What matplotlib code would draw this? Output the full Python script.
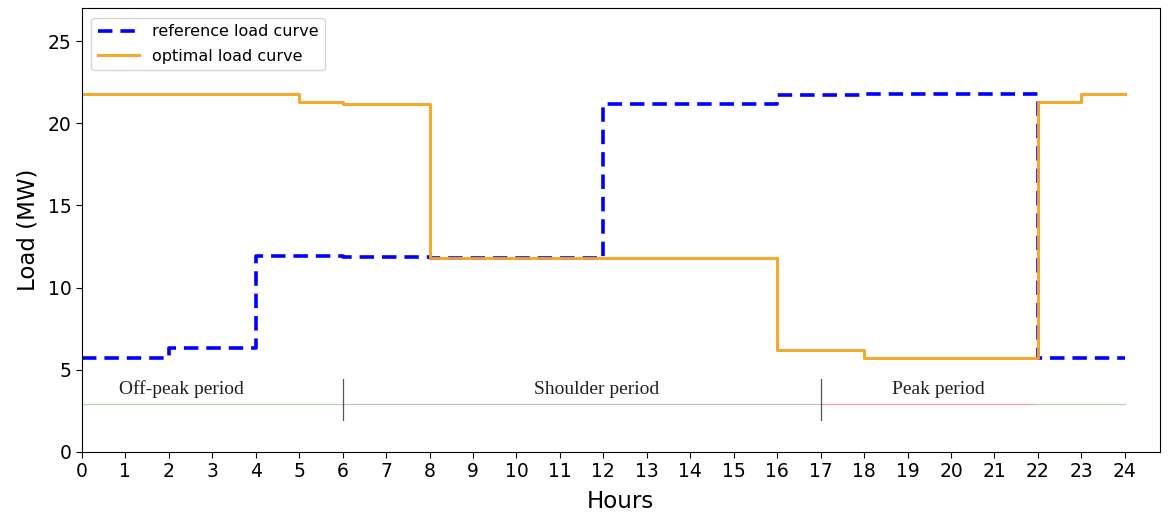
import matplotlib
matplotlib.use("Agg")
import matplotlib.pyplot as plt

hours = list(range(25))
ref_load = [5.7, 5.7, 6.3, 6.3, 11.95, 11.95, 11.85, 11.85, 11.8, 11.8, 11.8, 11.8,
            21.2, 21.2, 21.2, 21.2, 21.7, 21.7, 21.8, 21.8, 21.8, 21.8, 5.7, 5.7]
opt_load = [21.8, 21.8, 21.8, 21.8, 21.8, 21.3, 21.2, 21.2, 11.8, 11.8, 11.8, 11.8,
            11.8, 11.8, 11.8, 11.8, 6.2, 6.2, 5.7, 5.7, 5.7, 5.7, 21.3, 21.8]

period_names = ["Off-peak period", "Shoulder period", "Peak period"]
period_text_x = [2.3, 11.85, 19.7]
period_segments = [(0, 6, "#b5dcb0"), (6, 17, "#c8c8c8"), (17, 21.9, "#f4a0a8"), (21.9, 24, "#b5dcb0")]
period_bounds = [6, 17]
period_y = 2.93

fig = plt.figure(figsize=(11.69, 5.13), dpi=100)
ax = fig.add_axes([0.070, 0.119, 0.922, 0.865])

ax.step(hours, ref_load + [ref_load[-1]], where="post", color="blue", linestyle="--",
        linewidth=2.6, dashes=(4, 2.2), label="reference load curve")
ax.step(hours, opt_load + [opt_load[-1]], where="post", color="#f5a623", linewidth=2.2,
        label="optimal load curve", alpha=0.95)

for x0, x1, c in period_segments:
    ax.plot([x0, x1], [period_y, period_y], color=c, linewidth=1.0)
for xb in period_bounds:
    ax.plot([xb, xb], [1.95, 4.45], color="#555555", linewidth=0.9)
for name, tx in zip(period_names, period_text_x):
    ax.text(tx, 3.8, name, ha="center", va="center", fontsize=14,
            family=["Liberation Serif"], color="#222222")

ax.set_xlim(0, 24.8)
ax.set_ylim(0, 27)
ax.set_xticks(range(25))
ax.set_yticks([0, 5, 10, 15, 20, 25])
ax.tick_params(labelsize=13.5, length=4)
ax.set_xlabel("Hours", fontsize=16.5, labelpad=6)
ax.set_ylabel("Load (MW)", fontsize=16.5, labelpad=6)
ax.legend(loc="upper left", fontsize=11.5, handlelength=2.6, borderaxespad=0.6,
          labelspacing=0.6)

fig.savefig("out.png", dpi=100)
